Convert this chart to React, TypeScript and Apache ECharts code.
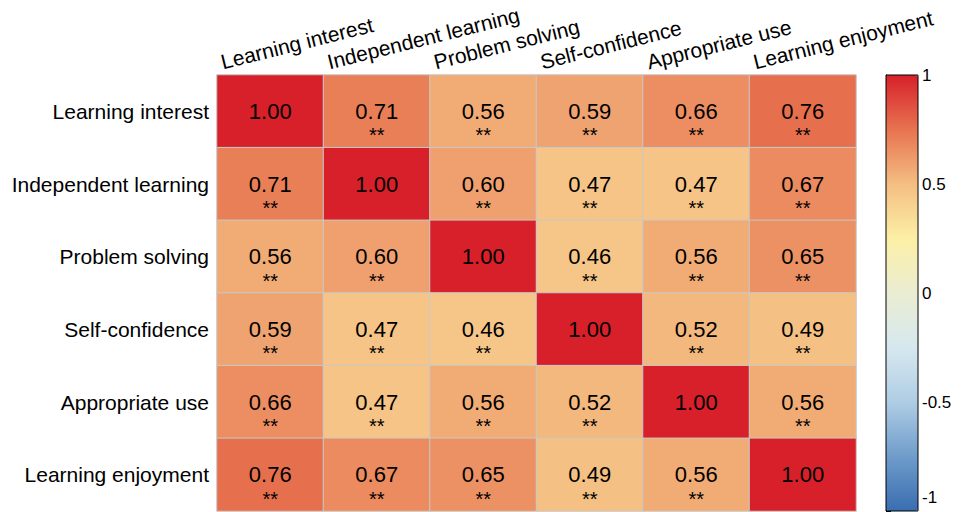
import React, { useEffect, useRef } from "react";
import * as echarts from "echarts";

const names = [
  "Learning interest",
  "Independent learning",
  "Problem solving",
  "Self-confidence",
  "Appropriate use",
  "Learning enjoyment",
];

const rowLearningInterest = [1.0, 0.71, 0.56, 0.59, 0.66, 0.76];
const rowIndependentLearning = [0.71, 1.0, 0.6, 0.47, 0.47, 0.67];
const rowProblemSolving = [0.56, 0.6, 1.0, 0.46, 0.56, 0.65];
const rowSelfConfidence = [0.59, 0.47, 0.46, 1.0, 0.52, 0.49];
const rowAppropriateUse = [0.66, 0.47, 0.56, 0.52, 1.0, 0.56];
const rowLearningEnjoyment = [0.76, 0.67, 0.65, 0.49, 0.56, 1.0];

const sigLearningInterest = ["", "**", "**", "**", "**", "**"];
const sigIndependentLearning = ["**", "", "**", "**", "**", "**"];
const sigProblemSolving = ["**", "**", "", "**", "**", "**"];
const sigSelfConfidence = ["**", "**", "**", "", "**", "**"];
const sigAppropriateUse = ["**", "**", "**", "**", "", "**"];
const sigLearningEnjoyment = ["**", "**", "**", "**", "**", ""];

const colorbarTicks = [-1, -0.5, 0, 0.5, 1];

const FONT = "Liberation Sans, Arial, Helvetica, sans-serif";

export default function App() {
  const ref = useRef<HTMLDivElement>(null);

  useEffect(() => {
    if (!ref.current) return;
    const chart = echarts.init(ref.current, null, { renderer: "svg" });

    const rows = [
      rowLearningInterest,
      rowIndependentLearning,
      rowProblemSolving,
      rowSelfConfidence,
      rowAppropriateUse,
      rowLearningEnjoyment,
    ];
    const sigs = [
      sigLearningInterest,
      sigIndependentLearning,
      sigProblemSolving,
      sigSelfConfidence,
      sigAppropriateUse,
      sigLearningEnjoyment,
    ];
    const data: any[] = [];
    rows.forEach((row, r) => {
      row.forEach((v, c) => {
        data.push([c, r, v, sigs[r][c]]);
      });
    });

    const option: any = {
      animation: false,
      textStyle: { fontFamily: FONT },
      grid: [
        {
          left: 217,
          top: 75,
          width: 639,
          height: 436,
          containLabel: false,
          outerBoundsMode: "none",
        },
        {
          left: 886,
          top: 75,
          width: 32,
          height: 436,
          show: true,
          borderColor: "#000",
          borderWidth: 1,
          backgroundColor: "transparent",
          z: 10,
          containLabel: false,
          outerBoundsMode: "none",
        },
      ],
      xAxis: [
        {
          type: "category",
          gridIndex: 0,
          data: names,
          position: "top",
          axisLine: { show: false },
          axisTick: { show: false },
          axisLabel: { show: false },
          splitLine: { show: false },
        },
        {
          type: "category",
          gridIndex: 0,
          data: [...names, ""],
          boundaryGap: false,
          position: "top",
          axisLine: { show: false },
          axisTick: { show: false },
          splitLine: { show: false },
          axisLabel: {
            interval: 0,
            rotate: -14,
            align: "left",
            verticalAlign: "bottom",
            margin: 1,
            padding: [0, 0, 0, 7],
            fontSize: 21,
            color: "#000",
            fontFamily: FONT,
          },
        },
        {
          type: "value",
          gridIndex: 1,
          show: false,
          min: 0,
          max: 1,
        },
      ],
      yAxis: [
        {
          type: "category",
          gridIndex: 0,
          data: names,
          inverse: true,
          axisLine: { show: false },
          axisTick: { show: false },
          splitLine: { show: false },
          axisLabel: {
            fontSize: 21,
            color: "#000",
            margin: 8,
            fontFamily: FONT,
          },
        },
        {
          type: "value",
          gridIndex: 1,
          position: "right",
          min: -1,
          max: 1,
          interval: 0.5,
          axisLine: { show: true, lineStyle: { color: "#000", width: 1 } },
          axisTick: {
            show: true,
            length: 5,
            lineStyle: { color: "#000", width: 1 },
          },
          splitLine: { show: false },
          axisLabel: {
            fontSize: 17,
            color: "#000",
            margin: 4,
            fontFamily: FONT,
            formatter: (v: number) => {
              if (colorbarTicks.indexOf(v) < 0) return "";
              if (v === -1) return `{low|${v}}`;
              return String(v);
            },
            rich: {
              low: {
                fontSize: 17,
                color: "#000",
                fontFamily: FONT,
                padding: [0, 0, 28, 0],
              },
            },
          },
        },
      ],
      visualMap: {
        type: "continuous",
        min: -1,
        max: 1,
        dimension: 2,
        seriesIndex: 0,
        calculable: false,
        realtime: false,
        orient: "vertical",
        left: 886,
        top: 75,
        itemWidth: 32,
        itemHeight: 436,
        padding: 0,
        text: null,
        showLabel: false,
        inRange: {
          color: [
            "#3a6db0",
            "#6f9ccb",
            "#afcde4",
            "#d6e8ef",
            "#eaedd2",
            "#fcefa6",
            "#f4be82",
            "#e7734f",
            "#d7202a",
          ],
        },
      },
      series: [
        {
          type: "heatmap",
          xAxisIndex: 0,
          yAxisIndex: 0,
          data,
          itemStyle: { borderColor: "#c8c8c8", borderWidth: 1 },
          label: {
            show: true,
            color: "#000",
            fontFamily: FONT,
            formatter: (p: any) => {
              const v = (p.data[2] as number).toFixed(2);
              const s = p.data[3] ? p.data[3] : " ";
              return `{e| }\n{v|${v}}\n{s|${s}}`;
            },
            rich: {
              e: { fontSize: 20, lineHeight: 24, fontFamily: FONT },
              v: { fontSize: 22, lineHeight: 24, color: "#000", fontFamily: FONT },
              s: { fontSize: 20, lineHeight: 24, color: "#000", fontFamily: FONT },
            },
          },
          emphasis: { disabled: true },
        },
      ],
    };

    chart.setOption(option);
    return () => chart.dispose();
  }, []);

  return <div ref={ref} style={{ width: 962, height: 512, position: "absolute", left: 0, top: 0 }} />;
}
